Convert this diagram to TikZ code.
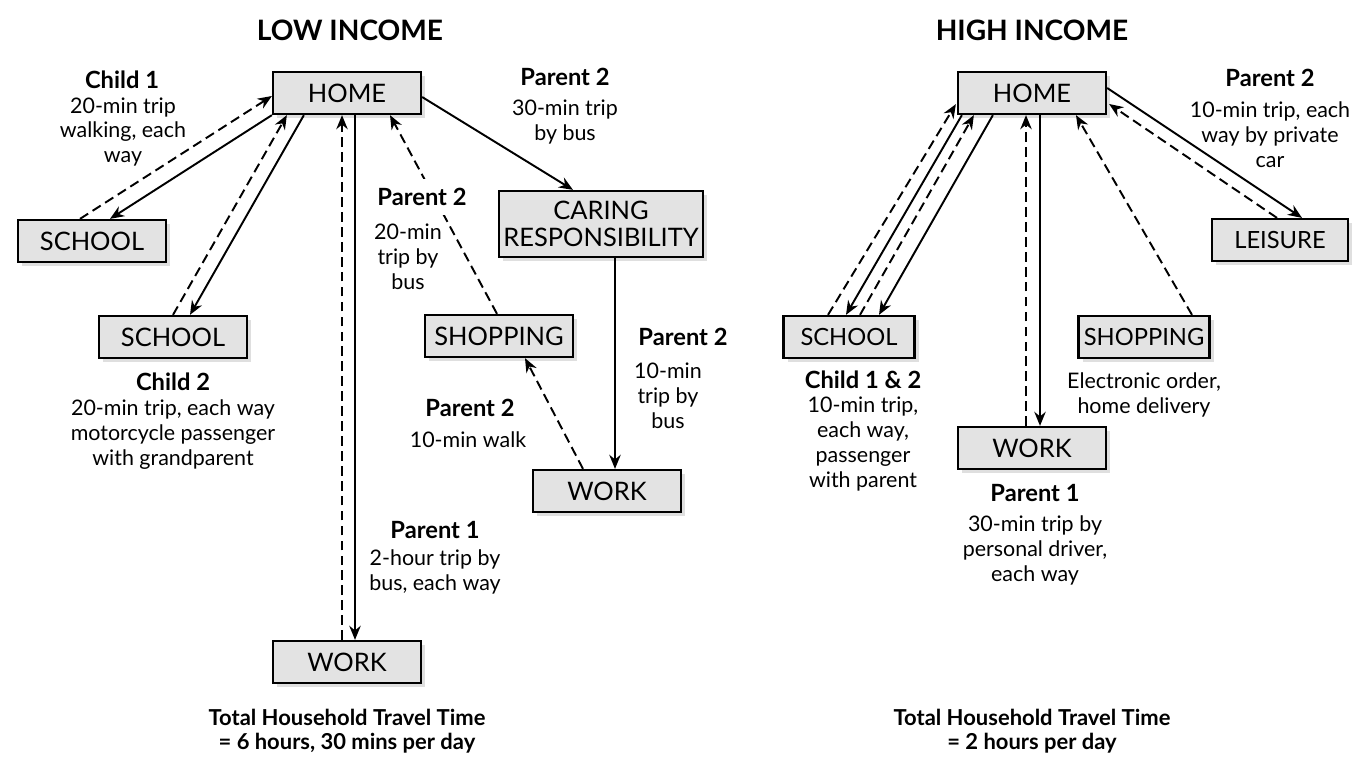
\documentclass[tikz,border=0pt]{standalone}
\usepackage{fontspec}
\setmainfont{Lato}
\usetikzlibrary{arrows.meta,calc,shadows}

\tikzset{
  place/.style={draw,line width=1.3pt,fill=gray!22,minimum width=2.96cm,minimum height=0.84cm,
    inner sep=1pt,align=center,font=\fontsize{14.5}{15}\selectfont,
    drop shadow={shadow xshift=2.5pt,shadow yshift=-2.5pt,fill=black!25,opacity=0.5}},
  narrow/.style={place,minimum width=2.62cm,font=\fontsize{13.5}{15}\selectfont},
  who/.style={font=\fontsize{13.5}{15}\bfseries\selectfont},
  note/.style={align=center,font=\fontsize{12.2}{14.2}\selectfont},
  there/.style={line width=1.1pt,-{Stealth[length=8pt,width=6.5pt]}},
  back/.style={there,dash pattern=on 5.5pt off 3pt},
  heading/.style={font=\fontsize{16}{18}\bfseries\selectfont},
  total/.style={align=center,font=\fontsize{12.5}{14}\bfseries\selectfont}
}

\begin{document}
\begin{tikzpicture}[x=0.02cm,y=-0.02cm]
        \useasboundingbox (0,0) rectangle (1352,765);
        \node [heading] (lowhead) at (350,30) {LOW INCOME};
        \node [heading] (highhead) at (1032,30) {HIGH INCOME};

        \node [place] (home) at (347,93) {HOME};
        \node [place] (school1) at (92,241) {SCHOOL};
        \node [place] (school2) at (173,337) {SCHOOL};
        \node [place,minimum width=4.08cm,minimum height=1.32cm] (care) at (601,224) {CARING\\RESPONSIBILITY};
        \node [place] (shop) at (499,336) {SHOPPING};
        \node [place] (work2) at (607,491) {WORK};
        \node [place] (work1) at (347,662) {WORK};

        \node [place] (rhome) at (1032,93) {HOME};
        \node [narrow] (rschool) at (849,337) {SCHOOL};
        \node [narrow] (rshop) at (1144,337) {SHOPPING};
        \node [place] (rwork) at (1032,448) {WORK};
        \node [narrow,minimum width=2.72cm] (rleisure) at (1280,240) {LEISURE};

        \draw [back] ($(school1.north)+(-12,0)$) -- ($(home.west)+(0,3)$);
        \draw [there] (home.south west) -- ($(school1.north)+(18,0)$);
        \draw [back] (school2.north) -- ($(home.south west)+(15,0)$);
        \draw [there] ($(home.south west)+(32,0)$) -- ($(school2.north)+(17,0)$);
        \draw [back] ($(work1.north)+(-5,0)$) -- ($(home.south)+(-5,0)$);
        \draw [there] ($(home.south)+(8,0)$) -- ($(work1.north)+(8,0)$);
        \draw [there] ($(home.east)+(0,4)$) -- ($(care.north)+(-28,0)$);
        \draw [there] ($(care.south)+(14,0)$) -- ($(work2.north)+(8,0)$);
        \draw [back] ($(work2.north)+(-24,0)$) -- ($(shop.south)+(26,0)$);
        \draw [back] ($(shop.north)+(-2,0)$) -- ($(home.south)+(43,0)$);

        \draw [back] ($(rschool.north)+(-21,0)$) -- ($(rhome.south west)+(-1,-11)$);
        \draw [there] ($(rhome.south west)+(5,0)$) -- ($(rschool.north)+(-3,0)$);
        \draw [back] ($(rschool.north)+(11,0)$) -- ($(rhome.south west)+(17,0)$);
        \draw [there] ($(rhome.south west)+(36,0)$) -- ($(rschool.north)+(30,0)$);
        \draw [back] ($(rwork.north)+(-6,0)$) -- ($(rhome.south)+(-6,0)$);
        \draw [there] ($(rhome.south)+(8,0)$) -- ($(rwork.north)+(8,0)$);
        \draw [back] ($(rshop.north)+(48,0)$) -- ($(rhome.south)+(44,0)$);
        \draw [there] ($(rhome.east)+(0,-5)$) -- ($(rleisure.north)+(22,0)$);
        \draw [back] ($(rleisure.north)+(-3,0)$) -- ($(rhome.east)+(2,11)$);

        \node [who] (c1who) at (122,80) {Child 1};
        \node [note] (c1how) at (123,132) {20-min trip\\walking, each\\way};
        \node [who] (c2who) at (173,382) {Child 2};
        \node [note] (c2how) at (173,435) {20-min trip, each way\\motorcycle passenger\\with grandparent};
        \node [who] (p2awho) at (565,77) {Parent 2};
        \node [note] (p2ahow) at (565,122) {30-min trip\\by bus};
        \node [who,fill=white,inner ysep=5pt] (p2bwho) at (422,197) {Parent 2};
        \node [note] (p2bhow) at (408,257) {20-min\\trip by\\bus};
        \node [who] (p2cwho) at (683,337) {Parent 2};
        \node [note] (p2chow) at (668,396) {10-min\\trip by\\bus};
        \node [who] (p2dwho) at (470,408) {Parent 2};
        \node [note] (p2dhow) at (468,440) {10-min walk};
        \node [who] (p1who) at (435,530) {Parent 1};
        \node [note] (p1how) at (435,572) {2-hour trip by\\bus, each way};
        \node [total] (lowsum) at (347,731) {Total Household Travel Time\\= 6 hours, 30 mins per day};

        \node [who] (rp2who) at (1270,78) {Parent 2};
        \node [note] (rp2how) at (1270,135) {10-min trip, each\\way by private\\car};
        \node [who] (rcwho) at (863,380) {Child 1 \& 2};
        \node [note] (rchow) at (863,444) {10-min trip,\\each way,\\passenger\\with parent};
        \node [note] (rshophow) at (1144,395) {Electronic order,\\home delivery};
        \node [who] (rp1who) at (1035,493) {Parent 1};
        \node [note] (rp1how) at (1035,550) {30-min trip by\\personal driver,\\each way};
        \node [total] (highsum) at (1032,731) {Total Household Travel Time\\= 2 hours per day};
      \end{tikzpicture}
\end{document}
